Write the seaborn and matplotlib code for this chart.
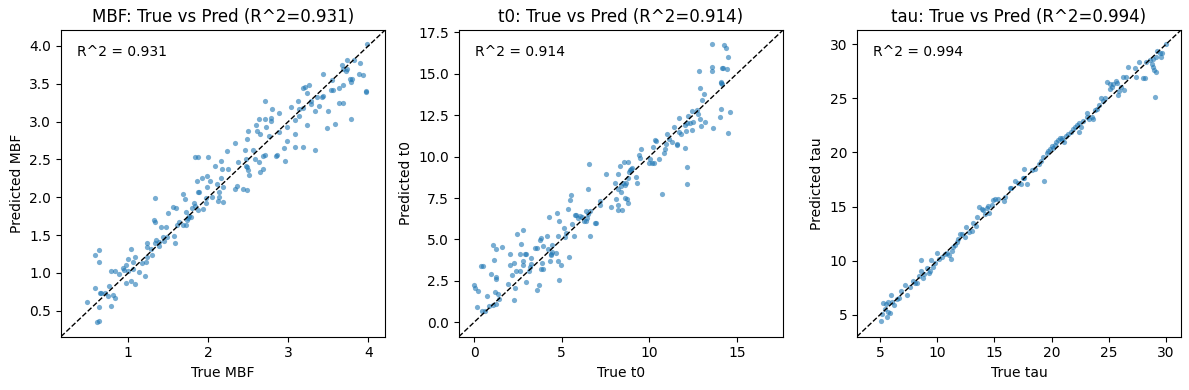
import matplotlib
matplotlib.use("Agg")
import matplotlib.pyplot as plt
import pandas as pd
import seaborn as sns


# values
mbf_true = [
    0.49, 0.58, 0.63, 0.63, 0.59, 0.65, 0.66, 0.71, 0.63, 0.61,
    0.63, 0.76, 0.75, 0.78, 0.81, 0.83, 0.79, 0.83, 0.89, 0.95,
    0.94, 0.97, 1.00, 1.03, 1.06, 1.08, 1.00, 1.06, 1.13, 0.97,
    1.04, 1.08, 1.17, 1.21, 1.22, 1.24, 1.23, 1.24, 1.30, 1.29,
    1.32, 1.33, 1.34, 1.34, 1.35, 1.39, 1.39, 1.41, 1.43, 1.45,
    1.47, 1.49, 1.50, 1.56, 1.60, 1.57, 1.59, 1.61, 1.63, 1.68,
    1.71, 1.69, 1.72, 1.72, 1.74, 1.75, 1.76, 1.79, 1.80, 1.82,
    1.83, 1.84, 1.87, 1.86, 1.87, 1.88, 1.87, 1.93, 1.92, 1.98,
    1.99, 2.00, 2.02, 1.97, 1.97, 2.05, 2.08, 2.11, 2.12, 2.13,
    2.16, 2.17, 2.16, 2.14, 2.18, 2.19, 2.23, 2.25, 2.34, 2.33,
    2.36, 2.37, 2.43, 2.49, 2.46, 2.47, 2.47, 2.48, 2.50, 2.49,
    2.50, 2.51, 2.56, 2.59, 2.60, 2.61, 2.63, 2.63, 2.65, 2.65,
    2.68, 2.68, 2.71, 2.71, 2.72, 2.71, 2.76, 2.78, 2.79, 2.80,
    2.85, 2.86, 2.88, 2.88, 2.95, 2.96, 2.98, 2.99, 3.03, 3.08,
    3.09, 3.09, 3.12, 3.13, 3.14, 3.18, 3.18, 3.19, 3.21, 3.23,
    3.24, 3.26, 3.28, 3.29, 3.33, 3.34, 3.36, 3.39, 3.42, 3.43,
    3.43, 3.48, 3.50, 3.54, 3.56, 3.55, 3.59, 3.63, 3.64, 3.69,
    3.68, 3.67, 3.69, 3.72, 3.74, 3.73, 3.77, 3.79, 3.80, 3.79,
    3.82, 3.88, 3.90, 3.93, 3.97, 3.97, 3.99,
]
mbf_pred = [
    0.62, 1.24, 1.30, 1.14, 0.80, 0.73, 0.73, 0.74, 0.55, 0.35,
    0.37, 0.83, 0.69, 0.56, 0.71, 0.67, 1.02, 1.02, 0.99, 1.04,
    1.06, 1.10, 1.18, 1.32, 1.15, 1.21, 1.03, 1.05, 1.01, 0.87,
    0.89, 0.85, 1.13, 0.96, 1.15, 1.21, 1.34, 1.39, 1.24, 1.32,
    1.70, 1.67, 1.99, 1.40, 1.44, 1.36, 1.41, 1.61, 1.48, 1.42,
    1.61, 1.47, 1.79, 1.87, 1.86, 1.49, 1.39, 1.63, 1.67, 2.05,
    1.98, 1.64, 1.80, 1.64, 1.70, 1.73, 1.75, 1.74, 1.86, 1.93,
    1.88, 2.53, 2.53, 2.21, 2.07, 2.07, 1.83, 1.85, 2.25, 2.13,
    2.28, 2.53, 2.22, 1.93, 1.99, 2.00, 2.41, 2.18, 1.95, 2.01,
    2.48, 2.38, 2.26, 2.07, 2.13, 1.94, 2.61, 2.38, 2.72, 2.11,
    2.15, 2.47, 2.11, 2.10, 2.62, 2.51, 2.41, 2.40, 2.88, 2.77,
    2.36, 2.29, 2.63, 2.50, 2.96, 2.88, 3.04, 2.47, 2.84, 2.33,
    2.37, 2.55, 3.27, 3.04, 2.93, 2.56, 2.81, 3.01, 3.05, 3.17,
    2.54, 2.56, 3.12, 2.86, 2.65, 2.48, 2.93, 2.75, 3.19, 3.02,
    2.83, 2.67, 3.27, 3.08, 3.17, 3.45, 3.18, 2.66, 3.46, 2.95,
    3.38, 3.49, 3.23, 3.27, 3.14, 2.63, 3.33, 3.20, 3.33, 3.63,
    3.34, 2.92, 3.14, 3.42, 3.42, 3.55, 2.97, 3.24, 3.45, 3.48,
    3.24, 3.75, 3.70, 3.67, 3.82, 3.70, 3.56, 3.52, 3.56, 3.03,
    3.82, 3.63, 3.77, 3.61, 3.40, 3.39, 4.03,
]

t0_true = [
    -0.02, 0.08, 0.23, 0.19, 0.42, 0.53, 0.46, 0.61, 0.74, 0.88,
    0.99, 1.07, 1.15, 1.18, 1.24, 1.26, 1.28, 1.11, 1.28, 1.34,
    1.43, 1.60, 1.93, 2.04, 2.08, 2.14, 2.29, 2.29, 2.35, 2.39,
    2.48, 2.61, 2.63, 2.69, 2.81, 2.81, 2.82, 2.90, 2.96, 2.98,
    3.13, 3.17, 3.26, 3.28, 3.49, 3.59, 3.57, 3.68, 3.78, 3.84,
    3.82, 3.89, 3.93, 3.95, 4.16, 4.20, 4.27, 4.31, 4.37, 4.41,
    4.47, 4.47, 4.68, 4.73, 4.77, 4.81, 4.87, 4.87, 4.96, 5.13,
    5.19, 5.23, 5.38, 5.42, 5.46, 5.53, 5.61, 5.71, 5.78, 5.84,
    5.95, 6.05, 6.18, 6.30, 6.37, 6.41, 6.45, 6.53, 6.49, 6.58,
    6.60, 6.64, 6.91, 6.98, 7.18, 7.21, 7.56, 7.84, 8.03, 8.11,
    8.21, 8.23, 8.24, 8.24, 8.32, 8.38, 8.42, 8.40, 8.57, 8.49,
    8.61, 8.66, 8.63, 8.74, 8.80, 8.80, 8.80, 8.84, 8.89, 8.97,
    9.01, 9.26, 9.29, 9.39, 9.50, 9.52, 9.98, 10.02, 10.17, 10.25,
    10.23, 10.32, 10.40, 10.53, 10.73, 10.82, 10.88, 10.97, 10.99, 11.11,
    11.30, 11.39, 11.56, 11.58, 11.72, 11.68, 11.83, 12.02, 12.02, 12.08,
    12.14, 12.16, 12.16, 12.23, 12.35, 12.44, 12.46, 12.52, 12.73, 12.79,
    12.82, 12.90, 12.92, 12.98, 13.03, 13.15, 13.21, 13.57, 13.57, 13.61,
    13.66, 14.03, 14.08, 14.10, 14.12, 14.16, 14.22, 14.29, 14.39, 14.47,
    14.45, 14.48, 14.62, 14.18,
]
t0_pred = [
    2.26, 2.10, 1.88, 0.94, 3.40, 3.40, 0.68, 0.66, 1.58, 0.98,
    2.92, 4.64, 3.76, 1.80, 2.64, 2.72, 4.42, 1.04, 1.08, 1.68,
    1.38, 4.54, 2.32, 4.10, 3.44, 2.84, 3.60, 1.32, 2.10, 3.10,
    5.36, 3.10, 4.10, 4.70, 5.60, 3.68, 3.46, 4.14, 4.12, 2.42,
    3.10, 3.36, 3.86, 3.54, 4.50, 4.50, 1.98, 2.26, 4.98, 5.06,
    3.20, 3.56, 3.20, 4.58, 5.20, 4.40, 6.36, 3.68, 4.06, 4.14,
    4.66, 4.24, 4.18, 6.62, 3.70, 5.18, 6.10, 2.58, 3.46, 5.70,
    5.14, 5.40, 6.84, 3.94, 7.38, 7.68, 5.96, 5.18, 6.50, 6.50,
    6.30, 6.42, 6.34, 6.14, 6.10, 6.74, 6.30, 6.52, 8.02, 9.54,
    5.18, 6.74, 6.02, 5.98, 7.34, 7.10, 8.98, 6.98, 8.40, 7.44,
    8.06, 7.08, 8.94, 6.76, 9.46, 8.20, 6.78, 7.84, 9.70, 8.40,
    8.26, 8.38, 7.50, 7.42, 9.66, 7.18, 8.72, 9.10, 9.18, 9.26,
    9.30, 8.78, 8.42, 10.10, 9.90, 10.44, 9.62, 9.88, 9.62, 9.64,
    10.58, 11.00, 10.92, 9.88, 7.72, 10.20, 10.44, 10.74, 11.34, 11.04,
    10.90, 11.78, 10.76, 10.72, 12.34, 11.48, 11.38, 11.90, 10.54, 11.56,
    12.02, 9.38, 8.34, 12.46, 12.02, 12.78, 11.58, 12.06, 12.84, 12.58,
    15.16, 12.28, 14.14, 11.86, 13.40, 13.80, 12.10, 16.80, 15.40, 15.14,
    11.72, 12.42, 14.52, 14.46, 12.88, 15.32, 15.34, 16.74, 16.54, 16.02,
    15.26, 11.42, 12.68, 14.38,
]

tau_true = [
    5.09, 5.20, 5.29, 5.41, 5.61, 5.73, 5.85, 5.52, 5.73, 5.99,
    6.02, 6.25, 6.49, 6.63, 6.81, 7.16, 7.33, 7.62, 7.91, 8.09,
    8.21, 8.44, 8.58, 8.61, 8.73, 8.85, 9.08, 9.25, 9.34, 9.49,
    9.60, 9.81, 10.01, 10.19, 10.45, 10.68, 10.89, 11.03, 11.18, 11.26,
    11.41, 11.56, 11.70, 11.85, 11.99, 12.20, 12.40, 12.52, 12.78, 13.01,
    13.16, 13.42, 13.51, 13.68, 13.89, 14.03, 14.21, 14.35, 14.47, 14.56,
    14.76, 14.91, 15.08, 15.31, 15.87, 15.96, 16.33, 16.48, 16.83, 17.09,
    17.33, 17.47, 17.62, 17.85, 18.26, 18.55, 18.87, 19.07, 19.22, 19.31,
    19.57, 19.71, 19.86, 20.01, 20.09, 20.27, 20.38, 20.56, 20.76, 20.91,
    21.05, 21.26, 21.40, 21.73, 21.87, 22.07, 22.22, 22.40, 22.42, 22.60,
    22.77, 23.07, 23.12, 23.30, 23.53, 23.62, 23.82, 23.97, 24.17, 24.32,
    24.46, 24.70, 24.84, 25.11, 25.31, 25.40, 25.60, 25.69, 25.78, 25.92,
    26.04, 26.21, 26.33, 26.50, 26.71, 27.32, 27.41, 27.61, 27.96, 28.14,
    28.25, 28.60, 28.75, 28.83, 28.98, 29.10, 29.04, 28.89, 29.13, 29.24,
    29.42, 29.53, 29.65, 29.97, 25.11, 20.88, 17.59,
]
tau_pred = [
    4.48, 5.06, 6.13, 5.52, 4.79, 5.24, 5.21, 5.98, 6.19, 6.80,
    6.19, 5.92, 6.47, 6.53, 7.23, 7.78, 6.86, 7.60, 8.12, 7.90,
    7.96, 8.55, 10.10, 9.03, 8.45, 8.82, 9.34, 8.91, 9.06, 10.04,
    9.43, 9.80, 10.68, 10.13, 10.35, 10.65, 10.72, 10.53, 10.17, 10.87,
    11.27, 11.48, 11.69, 12.03, 12.49, 12.49, 12.18, 13.10, 12.70, 12.79,
    13.50, 13.19, 14.08, 14.93, 14.75, 14.69, 14.32, 14.84, 15.06, 14.44,
    15.18, 15.61, 15.73, 15.73, 15.48, 15.85, 16.67, 16.74, 17.38, 17.19,
    17.07, 17.68, 18.48, 17.13, 18.39, 18.48, 18.91, 19.18, 19.58, 17.38,
    19.94, 20.13, 20.28, 20.59, 20.37, 20.68, 20.98, 21.17, 21.35, 21.35,
    20.98, 21.50, 21.72, 21.93, 22.15, 22.33, 22.54, 22.70, 21.87, 22.36,
    22.88, 23.28, 23.64, 23.06, 23.28, 23.09, 23.95, 24.04, 24.41, 25.02,
    24.77, 25.02, 26.49, 25.90, 26.06, 26.33, 26.61, 26.39, 25.32, 25.63,
    26.06, 26.94, 25.75, 26.94, 27.86, 27.77, 26.94, 28.38, 26.85, 26.85,
    28.38, 28.50, 28.17, 27.86, 27.65, 27.46, 25.08, 28.62, 28.84, 29.36,
    29.14, 28.84, 29.21, 30.00, 26.33, 21.11, 17.62,
]

param_names = ["MBF", "t0", "tau"]
r2_scores = ["0.931", "0.914", "0.994"]
axis_lims = [(0.16, 4.21), (-0.86, 17.64), (3.0, 31.3)]


def plot_true_vs_pred(ax, name, y_true, y_pred, r2, lims):
    data = pd.DataFrame({"true": y_true, "pred": y_pred})
    sns.scatterplot(
        x="true",
        y="pred",
        data=data,
        s=14,
        alpha=0.6,
        color="#1f77b4",
        linewidth=0,
        ax=ax,
    )
    ax.plot(lims, lims, "k--", lw=1)
    ax.set_xlim(lims)
    ax.set_ylim(lims)
    ax.text(0.05, 0.95, f"R^2 = {r2}", transform=ax.transAxes, va="top", fontsize=10)
    ax.set_title(f"{name}: True vs Pred (R^2={r2})")
    ax.set_xlabel(f"True {name}")
    ax.set_ylabel(f"Predicted {name}")


fig, axes = plt.subplots(1, 3, figsize=(11.89, 3.9), dpi=100)
series = [(mbf_true, mbf_pred), (t0_true, t0_pred), (tau_true, tau_pred)]
for ax, name, (yt, yp), r2, lims in zip(axes, param_names, series, r2_scores, axis_lims):
    plot_true_vs_pred(ax, name, yt, yp, r2, lims)

fig.subplots_adjust(left=0.0513, right=0.9933, top=0.923, bottom=0.137, wspace=0.228)
fig.savefig("out.png", dpi=100)
